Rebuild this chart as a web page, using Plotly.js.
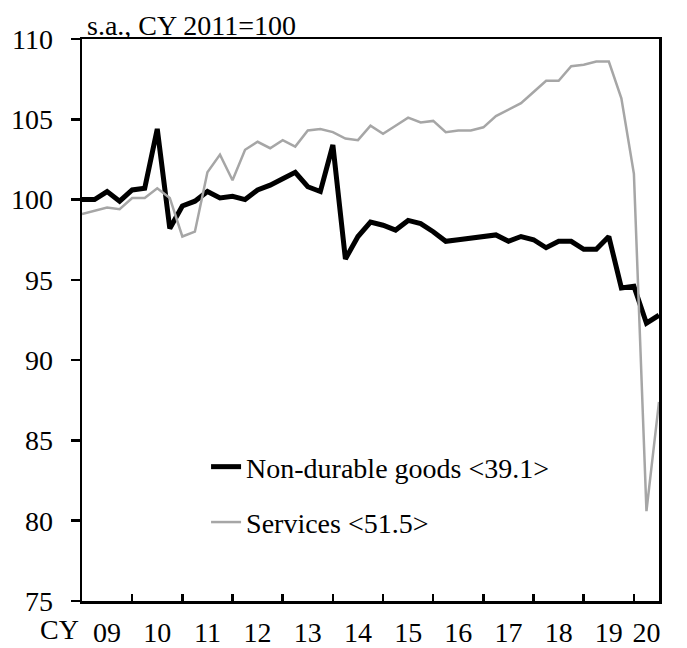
<!DOCTYPE html>
<html>
<head>
<meta charset="utf-8">
<script src="https://cdn.plot.ly/plotly-3.0.1.min.js"></script>
<style>
  html, body { margin: 0; padding: 0; background: #ffffff; }
  #chart { width: 687px; height: 648px; }
</style>
</head>
<body>
<div id="chart"></div>
<script>
// Quarterly data, 2009 Q1 to 2020 Q3 (s.a., CY 2011=100)
const startYear = 2009;
const nonDurableGoods = [
  100.0, 100.0, 100.5, 99.9,
  100.6, 100.7, 104.4, 98.2,
  99.6, 99.9, 100.5, 100.1,
  100.2, 100.0, 100.6, 100.9,
  101.3, 101.7, 100.8, 100.5,
  103.4, 96.3, 97.7, 98.6,
  98.4, 98.1, 98.7, 98.5,
  98.0, 97.4, 97.5, 97.6,
  97.7, 97.8, 97.4, 97.7,
  97.5, 97.0, 97.4, 97.4,
  96.9, 96.9, 97.7, 94.5,
  94.6, 92.3, 92.8
];
const services = [
  99.1, 99.3, 99.5, 99.4,
  100.1, 100.1, 100.7, 100.1,
  97.7, 98.0, 101.7, 102.8,
  101.2, 103.1, 103.6, 103.2,
  103.7, 103.3, 104.3, 104.4,
  104.2, 103.8, 103.7, 104.6,
  104.1, 104.6, 105.1, 104.8,
  104.9, 104.2, 104.3, 104.3,
  104.5, 105.2, 105.6, 106.0,
  106.7, 107.4, 107.4, 108.3,
  108.4, 108.6, 108.6, 106.3,
  101.6, 80.6, 87.4
];
const seriesNames = ["Non-durable goods <39.1>", "Services <51.5>"];
const yearLabels = ["09","10","11","12","13","14","15","16","17","18","19","20"];
const yTicks = [75, 80, 85, 90, 95, 100, 105, 110];
const unitNote = "s.a., CY 2011=100";
const axisPrefix = "CY";

// x position of each quarter (in years)
const xq = nonDurableGoods.map((_, i) => startYear + i / 4);
const xEnd = startYear + (nonDurableGoods.length - 1) / 4;
// tick label positions: centre of each visible year span
const labelPos = yearLabels.map((_, k) => {
  const a = startYear + k, b = Math.min(a + 1, xEnd);
  return (a + b) / 2;
});
const boundaryPos = yearLabels.slice(1).map((_, k) => startYear + k + 1);

const FONT = '"Liberation Serif", "Times New Roman", Times, serif';
const FS = 28;

const traces = [
  { x: xq, y: nonDurableGoods, name: seriesNames[0], type: "scatter", mode: "lines",
    line: { color: "#000000", width: 5 }, legendgroup: "a", xaxis: "x", yaxis: "y" },
  { x: xq, y: services, name: seriesNames[1], type: "scatter", mode: "lines",
    line: { color: "#a6a6a6", width: 2.5 }, legendgroup: "b", xaxis: "x", yaxis: "y" },
  // invisible helper for tick-mark axis
  { x: [startYear, xEnd], y: [75, 75], type: "scatter", mode: "none", showlegend: false,
    hoverinfo: "skip", xaxis: "x2", yaxis: "y" }
];

const layout = {
  width: 687, height: 648,
  margin: { l: 82, r: 28, t: 39, b: 47, pad: 0 },
  paper_bgcolor: "#ffffff", plot_bgcolor: "#ffffff",
  font: { family: FONT, size: FS, color: "#000000" },
  showlegend: true,
  legend: {
    x: 0.215, y: 0.283, xanchor: "left", yanchor: "top",
    bgcolor: "rgba(0,0,0,0)", borderwidth: 0,
    font: { family: FONT, size: FS, color: "#000000" },
    tracegroupgap: 16, traceorder: "grouped"
  },
  xaxis: {
    range: [startYear, xEnd], showgrid: false, zeroline: false,
    showline: true, linecolor: "#000000", linewidth: 2.5, mirror: true,
    tickmode: "array", tickvals: labelPos, ticktext: yearLabels,
    ticks: "", ticklabelstandoff: 5,
    tickfont: { family: FONT, size: FS, color: "#000000" }, fixedrange: true
  },
  xaxis2: {
    overlaying: "x", anchor: "y", side: "bottom",
    range: [startYear, xEnd], showgrid: false, zeroline: false, showline: false,
    tickmode: "array", tickvals: boundaryPos, ticks: "inside", ticklen: 7,
    tickwidth: 2.5, tickcolor: "#000000", showticklabels: false, fixedrange: true
  },
  yaxis: {
    range: [75, 110], showgrid: false, zeroline: false,
    showline: true, linecolor: "#000000", linewidth: 2.5, mirror: true,
    tickmode: "array", tickvals: yTicks, ticks: "outside", ticklen: 9,
    tickwidth: 2.5, tickcolor: "#000000", ticklabelstandoff: 12,
    tickfont: { family: FONT, size: FS, color: "#000000" }, fixedrange: true
  },
  annotations: [
    { text: unitNote, xref: "paper", yref: "paper", x: 0.006, y: 1.0,
      xanchor: "left", yanchor: "bottom", yshift: -4, showarrow: false,
      font: { family: FONT, size: FS, color: "#000000" } },
    { text: axisPrefix, xref: "paper", yref: "paper", x: -0.001, y: 0,
      xanchor: "right", yanchor: "top", yshift: -11, showarrow: false,
      font: { family: FONT, size: FS, color: "#000000" } }
  ]
};

Plotly.newPlot("chart", traces, layout, { staticPlot: true, displayModeBar: false });
</script>
</body>
</html>
